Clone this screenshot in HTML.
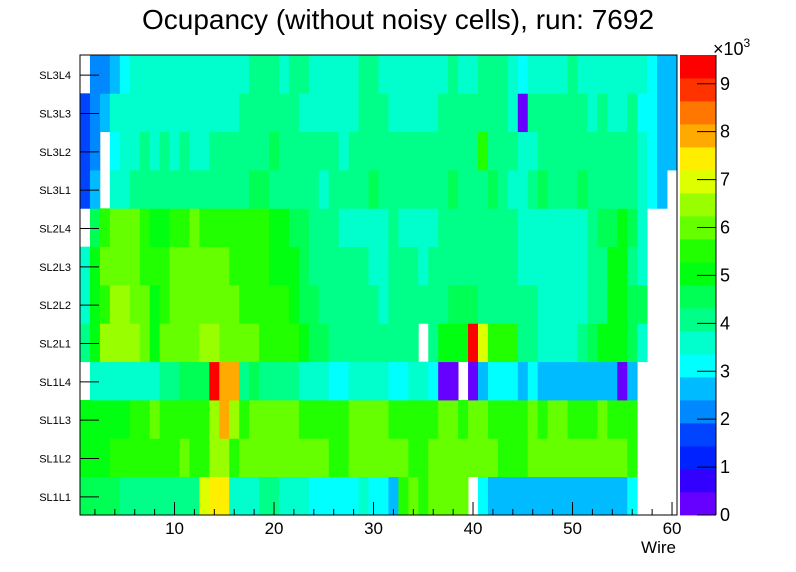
<!DOCTYPE html>
<html><head><meta charset="utf-8"><style>
html,body{margin:0;padding:0;background:#fff;}
svg{display:block;font-family:"Liberation Sans",sans-serif;}
</style></head><body>
<svg id="chart" width="796" height="572" viewBox="0 0 796 572">
<text x="398" y="29" font-size="28" text-anchor="middle">Ocupancy (without noisy cells), run: 7692</text>
<g id="cells"></g>
<g id="axes"></g>
<g id="cbar"></g>
<text x="676" y="553" font-size="17" text-anchor="end">Wire</text>
<text x="713" y="55" font-size="18">×10<tspan dy="-8" font-size="12">3</tspan></text>
</svg>
<script>
// values in thousands; null = empty cell
const rowLabels = ["SL1L1","SL1L2","SL1L3","SL1L4","SL2L1","SL2L2","SL2L3","SL2L4","SL3L1","SL3L2","SL3L3","SL3L4"];
const xTicks = [10,20,30,40,50,60];
const zTicks = [0,1,2,3,4,5,6,7,8,9];
const rowSL1L1 = [4.6,4.6,4.6,4.6,4.1,4.1,4.1,4.1,4.1,4.1,4.1,4.1,7.0,7.4,7.4,3.6,3.6,3.6,4.1,4.1,3.6,3.6,3.6,3.1,3.1,3.1,3.1,3.1,3.6,3.1,3.1,2.6,5.5,6.0,5.5,6.0,6.0,6.0,6.0,null,3.1,2.6,2.6,2.6,2.6,2.6,2.6,2.6,2.6,2.6,2.6,2.6,2.6,2.6,2.6,3.1,null,null,null,null];
const rowSL1L2 = [5.0,5.0,5.0,5.5,5.5,5.5,5.5,5.5,5.5,5.5,6.0,5.5,5.5,6.5,6.5,5.5,6.0,6.0,6.0,6.0,6.0,6.0,6.0,6.0,6.0,5.5,5.5,6.0,6.0,6.0,6.0,6.0,6.0,5.5,5.5,6.0,6.0,6.0,6.0,6.0,6.0,6.0,5.5,5.5,5.5,6.0,6.0,6.0,6.0,6.0,6.0,6.0,6.0,6.0,6.0,5.5,null,null,null,null];
const rowSL1L3 = [5.0,5.0,5.0,5.0,5.0,5.5,5.5,6.0,5.5,5.5,5.5,5.5,5.5,6.5,7.9,6.5,5.5,6.0,6.0,6.0,6.0,6.0,5.5,5.5,5.5,5.5,5.5,6.0,6.0,6.0,6.0,5.5,5.5,5.5,5.5,5.5,6.0,6.0,5.5,6.0,6.0,5.5,5.5,5.5,5.5,6.0,5.5,6.0,6.0,5.5,5.5,5.5,6.0,5.5,5.5,5.5,null,null,null,null];
const rowSL1L4 = [null,3.6,3.6,3.6,3.6,3.6,3.6,3.6,4.1,4.1,4.6,4.6,4.6,9.4,7.9,7.9,4.1,4.6,4.1,4.1,4.1,4.1,3.6,3.6,3.6,3.1,3.1,3.6,3.6,3.6,3.6,3.1,3.1,3.6,3.6,3.1,0.2,0.2,null,0.2,2.6,3.1,3.1,3.1,2.6,3.1,2.6,2.6,2.6,2.6,2.6,2.6,2.6,2.6,0.2,2.6,null,null,null,null];
const rowSL2L1 = [4.1,5.0,6.5,6.5,6.5,6.5,6.0,5.0,6.0,6.0,6.0,6.0,6.5,6.5,6.0,6.0,6.0,6.0,5.5,5.5,5.5,5.5,5.0,4.6,4.6,4.1,4.1,4.1,4.1,4.1,4.1,4.1,4.1,4.1,null,4.1,5.0,5.0,5.0,9.4,7.0,5.5,5.5,5.5,4.1,4.1,3.6,3.6,3.6,3.6,4.1,4.6,5.0,5.0,5.0,4.6,3.6,null,null,null];
const rowSL2L2 = [3.6,5.0,5.5,6.5,6.5,6.0,6.0,5.0,5.5,6.0,6.0,6.0,6.0,6.0,6.0,6.0,5.5,5.5,5.5,5.5,5.5,5.0,4.6,4.6,4.1,4.1,4.1,4.1,4.1,4.1,3.6,4.1,4.1,4.1,4.1,4.1,4.1,4.6,4.6,4.6,4.1,4.1,4.1,4.1,4.1,4.1,3.6,3.6,3.6,3.6,3.6,4.1,4.1,5.0,5.0,4.6,4.6,null,null,null];
const rowSL2L3 = [3.6,5.0,6.0,6.0,6.0,6.0,5.5,5.5,5.5,6.0,6.0,6.0,6.0,6.0,6.0,5.5,5.5,5.5,5.5,5.0,5.0,5.0,4.6,4.1,4.1,4.1,4.1,4.1,4.1,3.6,3.6,4.1,4.1,4.1,3.6,4.1,4.1,4.1,4.1,4.1,4.1,4.1,4.1,4.1,3.6,3.6,3.6,3.6,3.6,3.6,3.6,4.1,4.1,5.0,5.0,4.1,3.6,null,null,null];
const rowSL2L4 = [null,4.6,5.5,6.0,6.0,6.0,5.5,5.0,5.0,5.5,5.5,6.0,5.5,5.5,5.5,5.5,5.5,5.5,5.5,5.0,5.0,4.6,4.6,4.1,4.1,4.1,3.6,3.6,3.6,3.6,3.6,4.1,3.6,3.6,3.6,3.6,4.1,4.1,4.1,4.1,4.1,4.1,4.1,4.1,3.6,3.6,3.6,3.6,3.6,3.6,3.6,4.1,4.6,4.6,5.0,4.6,3.6,null,null,null];
const rowSL3L1 = [1.7,2.6,null,3.6,3.6,4.1,4.1,4.1,4.1,4.1,4.1,4.1,4.1,4.1,4.1,4.1,4.1,4.6,4.6,4.1,4.1,4.1,4.1,4.1,3.6,4.1,4.1,4.1,4.1,4.6,4.1,4.1,4.1,4.1,4.1,4.1,4.1,4.6,4.1,4.1,4.1,4.6,4.1,3.6,3.6,4.1,4.6,4.1,4.1,4.1,4.6,4.1,4.1,4.1,4.1,4.1,3.6,3.1,2.6,null];
const rowSL3L2 = [1.7,2.2,null,3.1,3.6,3.6,4.1,3.6,4.1,3.6,4.1,3.6,3.6,4.1,4.1,4.1,4.1,4.1,4.1,4.6,4.1,4.1,4.1,4.1,4.1,4.1,3.6,4.1,4.1,4.1,4.1,4.1,4.1,4.1,4.1,4.1,4.1,4.1,4.1,4.1,5.5,4.1,4.1,4.1,3.6,3.6,4.1,4.1,4.1,4.1,4.1,4.1,4.1,4.1,4.1,4.1,3.6,3.1,2.6,2.6];
const rowSL3L3 = [1.7,2.2,2.6,3.6,3.6,3.6,3.6,3.6,3.6,3.6,3.6,3.6,3.6,3.6,3.6,3.6,4.1,4.1,4.1,4.1,4.1,4.1,3.6,3.6,3.6,3.6,3.6,3.6,4.1,4.1,4.1,3.6,3.6,3.6,3.6,3.6,4.1,4.1,4.1,4.1,4.1,4.1,4.1,3.6,0.2,4.1,4.1,4.1,4.1,4.1,4.1,3.6,4.1,3.6,3.6,4.1,3.1,3.1,2.6,2.6];
const rowSL3L4 = [null,2.2,2.2,2.6,3.1,3.6,3.6,3.6,3.6,3.6,3.6,3.6,3.6,3.6,3.6,3.6,3.6,4.1,4.1,4.1,3.6,4.1,4.1,3.6,3.6,3.6,3.6,3.6,4.1,4.1,3.6,3.6,3.6,3.6,3.6,3.6,3.6,4.1,3.6,3.6,4.1,4.1,4.1,3.6,3.1,3.6,3.6,3.6,3.6,4.1,3.6,3.6,3.6,3.6,3.6,3.6,3.6,3.1,2.6,2.6];
const rows = [rowSL1L1,rowSL1L2,rowSL1L3,rowSL1L4,rowSL2L1,rowSL2L2,rowSL2L3,rowSL2L4,rowSL3L1,rowSL3L2,rowSL3L3,rowSL3L4];

const palette = ["#6600ff","#3300ff","#0022ff","#0044ff","#0088ff","#00bbff","#00ffff","#00ffcc","#00ff88","#00ff55","#00ff11","#22ff00","#66ff00","#99ff00","#ddff00","#ffee00","#ffaa00","#ff7700","#ff3300","#ff0000"];
const zMax = 9.6;
const X0=80, X1=677, Y0=55, Y1=515, xMin=0.5, xMax=60.5;
const NS="http://www.w3.org/2000/svg";
function xs(w){return X0+(w-xMin)/(xMax-xMin)*(X1-X0);}
function ys(r){return Y1-r*(Y1-Y0)/rows.length;}
function zs(v){return Y1-v/zMax*(Y1-Y0);}
function col(v){let k=Math.floor(v/zMax*palette.length);k=Math.max(0,Math.min(palette.length-1,k));return palette[k];}
function mk(tag,attrs,parent){const e=document.createElementNS(NS,tag);for(const k in attrs)e.setAttribute(k,attrs[k]);parent.appendChild(e);return e;}

const cells=document.getElementById('cells');
rows.forEach((row,r)=>{
  row.forEach((v,i)=>{
    if(v===null)return;
    const w=i+1;
    const x=xs(w-0.5), x2=xs(w+0.5);
    const el=mk('rect',{x:x,y:ys(r+1),width:x2-x+0.4,height:ys(r)-ys(r+1)+0.4,fill:col(v)},cells);
    
    
  });
});

const axes=document.getElementById('axes');
const frame=mk('rect',{x:X0,y:Y0,width:X1-X0,height:Y1-Y0,fill:'none',stroke:'#000','stroke-width':1},axes);


for(let w=2;w<=60;w+=2){
  const major=xTicks.includes(w);
  const t=mk('line',{x1:xs(w),x2:xs(w),y1:Y1,y2:Y1-(major?13:6),stroke:'#000','stroke-width':1},axes);
  
  
}
xTicks.forEach(w=>{
  const t=mk('text',{x:xs(w),y:534,'font-size':17,'text-anchor':'middle'},axes);
  t.textContent=w;
  
  
});
rowLabels.forEach((lab,r)=>{
  const yc=(ys(r)+ys(r+1))/2+1;
  const t=mk('line',{x1:X0,x2:X0+19,y1:yc,y2:yc,stroke:'#000','stroke-width':1},axes);
  
  
  const tx=mk('text',{x:71,y:yc+4,'font-size':11,'text-anchor':'end'},axes);
  tx.textContent=lab;
  
  
});

const cbar=document.getElementById('cbar');
const CB0=680, CB1=716;
palette.forEach((c,k)=>{
  const lo=k*zMax/palette.length, hi=(k+1)*zMax/palette.length;
  const el=mk('rect',{x:CB0,y:zs(hi),width:CB1-CB0,height:zs(lo)-zs(hi)+0.4,fill:c},cbar);
  
  
});
const ax=mk('line',{x1:CB1,x2:CB1,y1:Y0,y2:Y1,stroke:'#000','stroke-width':1},cbar);


zTicks.forEach(v=>{
  const t=mk('line',{x1:CB1-19,x2:CB1,y1:zs(v),y2:zs(v),stroke:'#000','stroke-width':1},cbar);
  
  
  const tx=mk('text',{x:CB1+4,y:zs(v)+6,'font-size':18},cbar);
  tx.textContent=v;
  
  
});
</script>
</body></html>
